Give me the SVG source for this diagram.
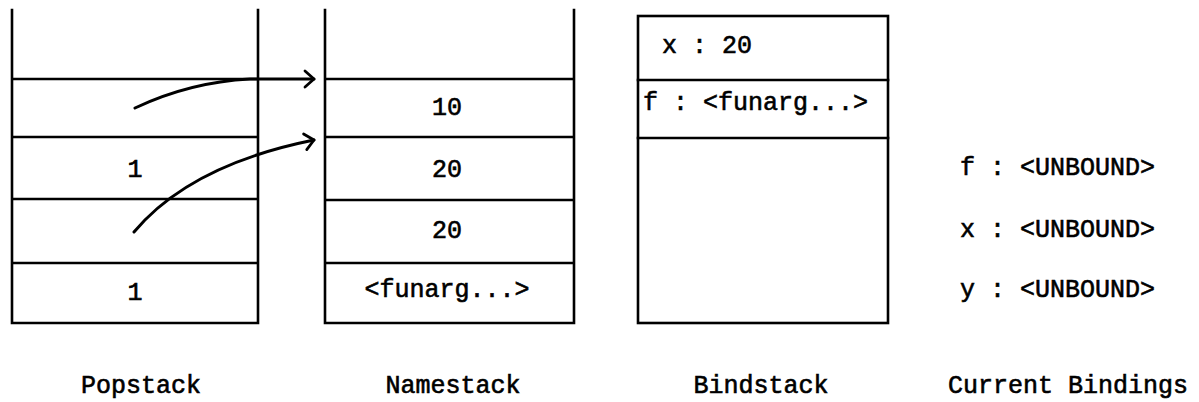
<svg xmlns="http://www.w3.org/2000/svg" width="1199" height="402" viewBox="0 0 1199 402">
<defs>
<style>
.ln{stroke:#000;stroke-width:2.6;fill:none;stroke-linecap:square}
.t{font-family:"Liberation Mono","DejaVu Sans Mono",monospace;font-size:25px;fill:#000;stroke:#000;stroke-width:0.6}
.c{text-anchor:middle}
.ar{stroke:#000;stroke-width:3;fill:none;stroke-linecap:round}
</style>
<marker id="ah" markerUnits="userSpaceOnUse" markerWidth="14" markerHeight="18" refX="12" refY="9" orient="auto" overflow="visible">
<path d="M3,1 L12,9 L3,17" fill="none" stroke="#000" stroke-width="2.8" stroke-linecap="round" stroke-linejoin="round"/>
</marker>
</defs>
<rect width="1199" height="402" fill="#fff"/>
<g id="popstack">
<path class="ln" d="M12,10 V323 M258,10 V323 M12,79 H258 M12,137 H258 M12,199 H258 M12,263 H258 M12,323 H258"/>
<text class="t c" x="135" y="177">1</text>
<text class="t c" x="135" y="300">1</text>
<text class="t c" x="141" y="393">Popstack</text>
</g>
<g id="namestack">
<path class="ln" d="M325,10 V323 M574,10 V323 M325,79 H574 M325,137 H574 M325,200 H574 M325,263 H574 M325,323 H574"/>
<text class="t c" x="447" y="115">10</text>
<text class="t c" x="447" y="177">20</text>
<text class="t c" x="447" y="238">20</text>
<text class="t c" x="447" y="297">&lt;funarg...&gt;</text>
<text class="t c" x="453" y="393">Namestack</text>
</g>
<g id="bindstack">
<rect class="ln" x="638" y="16" width="250" height="307"/>
<path class="ln" d="M638,80 H888 M638,138 H888"/>
<text class="t" x="662" y="53">x : 20</text>
<text class="t" x="643" y="110">f : &lt;funarg...&gt;</text>
<text class="t c" x="761" y="393">Bindstack</text>
</g>
<g id="current-bindings">
<text class="t" x="960" y="175">f : &lt;UNBOUND&gt;</text>
<text class="t" x="960" y="237">x : &lt;UNBOUND&gt;</text>
<text class="t" x="960" y="297">y : &lt;UNBOUND&gt;</text>
<text class="t c" x="1068" y="393">Current Bindings</text>
</g>
<g id="connectors">
<path class="ar" d="M135,108 Q190,82 250,79 L314,79" marker-end="url(#ah)"/>
<path class="ar" d="M134,232 Q190,165 314,140" marker-end="url(#ah)"/>
</g>
</svg>
